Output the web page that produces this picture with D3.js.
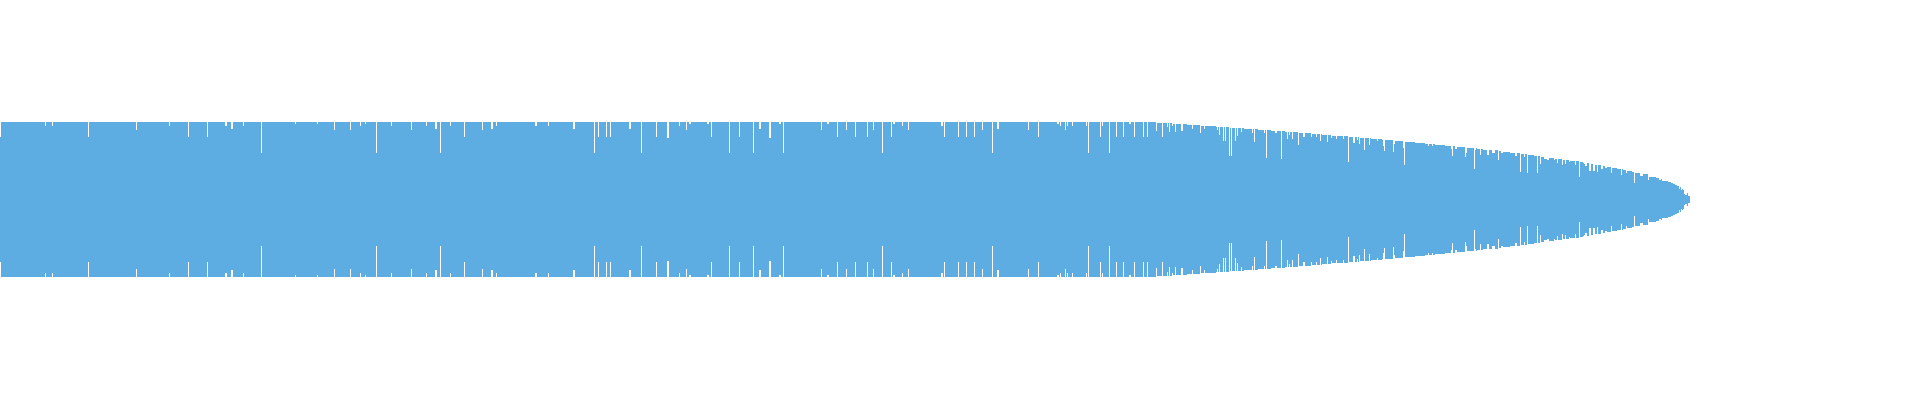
<!DOCTYPE html>
<html>
<head>
<meta charset="utf-8">
<script src="https://cdn.jsdelivr.net/npm/d3@7"></script>
<style>
  html, body { margin: 0; padding: 0; background: #fff; }
  svg { display: block; }
</style>
</head>
<body>
<svg id="wave"></svg>
<script>
// Waveform peaks, one column per sample. Amplitude 0..1, mirrored round the centre line.
const SAMPLE_COUNT = 1690;

// Envelope of the peaks: [sample index, amplitude] - holds until the next entry
const envelope = [
  [0, 1], [1157, .987], [1173, .974], [1187, .961], [1201, .948], [1216, .935],
  [1230, .923], [1244, .910], [1258, .897], [1271, .884], [1285, .871], [1299, .858],
  [1312, .845], [1322, .832], [1332, .819], [1349, .806], [1360, .794], [1371, .781],
  [1382, .768], [1395, .755], [1405, .742], [1415, .729], [1425, .716], [1435, .703],
  [1445, .690], [1457, .677], [1467, .665], [1477, .652], [1483, .639], [1499, .626],
  [1503, .613], [1510, .600], [1521, .587], [1528, .574], [1534, .561], [1541, .548],
  [1544, .523], [1547, .510], [1549, .535], [1554, .523], [1563, .510], [1570, .497],
  [1580, .484], [1587, .471], [1591, .458], [1595, .445], [1603, .432], [1605, .406],
  [1607, .419], [1612, .406], [1617, .394], [1623, .381], [1627, .368], [1632, .355],
  [1635, .342], [1640, .303], [1643, .329], [1649, .290], [1656, .277], [1659, .252],
  [1661, .265], [1662, .239], [1668, .226], [1671, .213], [1673, .200], [1675, .187],
  [1677, .174], [1679, .135], [1680, .161], [1681, .123], [1682, .135], [1683, .123],
  [1684, .071], [1685, .058], [1687, .084], [1688, .045]
];

// Quieter samples below the envelope: [sample index, amplitude, run length]
const dips = [
  [0, .81], [45, .95], [52, .95], [88, .81], [136, .90], [169, .95], [188, .81], [207, .81],
  [225, .95, 2], [231, .91, 2], [243, .95], [261, .60], [295, .97], [317, .97], [334, .90],
  [350, .90], [360, .95], [365, .97], [376, .60], [391, .95], [411, .90], [426, .95],
  [435, .91, 2], [440, .60], [450, .95], [464, .81], [482, .90], [491, .91, 2], [496, .95],
  [535, .95, 2], [548, .95],
  [573, .91, 2], [594, .60], [598, .81], [606, .81], [610, .81], [629, .91, 2], [641, .60],
  [656, .81], [667, .79, 2], [679, .95], [686, .90], [689, .97, 2], [707, .97, 2], [711, .81],
  [729, .60], [739, .81], [753, .60], [759, .91, 2], [769, .79, 2], [779, .97, 2], [783, .60],
  [821, .90], [827, .97, 2], [837, .81], [846, .90],
  [855, .81], [867, .81], [873, .90], [882, .60], [891, .81], [893, .97, 2], [902, .95],
  [908, .90], [941, .95, 2], [944, .81], [958, .81], [966, .81], [974, .81], [982, .90],
  [992, .60], [997, .91, 2], [1028, .90], [1038, .81], [1057, .97, 2], [1060, .95], [1065, .90],
  [1067, .95], [1072, .95], [1086, .95], [1088, .60], [1100, .81], [1102, .95], [1109, .60],
  [1116, .81], [1123, .81], [1129, .97, 2], [1134, .81],
  [1143, .81], [1147, .81], [1156, .884], [1162, .81], [1167, .935], [1169, .871], [1172, .948],
  [1175, .871], [1181, .884, 2], [1192, .91], [1200, .858], [1204, .91], [1217, .897],
  [1219, .832], [1223, .755], [1225, .755], [1229, .561], [1231, .561], [1235, .755],
  [1237, .819], [1241, .871], [1252, .858], [1254, .742], [1264, .858], [1266, .535],
  [1275, .858, 2], [1281, .523], [1287, .781], [1289, .832], [1292, .781], [1298, .703],
  [1303, .806, 2], [1311, .806], [1316, .806], [1320, .755], [1327, .742], [1331, .794],
  [1336, .781], [1343, .781], [1348, .484], [1353, .729, 2], [1357, .768], [1359, .716],
  [1364, .639], [1369, .703], [1377, .755], [1383, .690], [1384, .626], [1393, .613],
  [1394, .716], [1403, .665], [1404, .445],
  [1428, .690], [1432, .690], [1451, .652], [1452, .561], [1455, .652, 2], [1465, .548],
  [1466, .600], [1474, .394], [1475, .639], [1480, .574], [1487, .574, 2], [1492, .600, 3],
  [1498, .510], [1501, .600, 2], [1515, .561, 2], [1520, .355], [1524, .548], [1527, .342],
  [1537, .342], [1540, .458], [1554, .510], [1557, .471], [1562, .445], [1565, .458],
  [1569, .484], [1575, .445], [1579, .290], [1583, .471], [1584, .458], [1585, .432, 2],
  [1589, .368, 2], [1593, .368, 2], [1597, .355], [1601, .394, 2], [1611, .342], [1621, .316],
  [1626, .342], [1634, .213], [1648, .252]
];

const W = 1920, H = 400;
const WAVE_COLOR = '#5DADE2';

const svg = d3.select('#wave').attr('width', W).attr('height', H);

const x = d3.scaleLinear().domain([0, W]).range([0, W]);
const y = d3.scaleLinear().domain([-1, 1]).range([277, 122]);

function envAt(i) {
  let a = envelope[0][1];
  for (const [ex, ea] of envelope) {
    if (ex <= i) a = ea; else break;
  }
  return a;
}

function ampAt(i) {
  const d = dips.find(d => i >= d[0] && i < d[0] + (d[2] || 1));
  return d ? d[1] : envAt(i);
}

// every place where the peak value changes
const cuts = new Set([SAMPLE_COUNT]);
envelope.forEach(d => cuts.add(d[0]));
dips.forEach(d => { cuts.add(d[0]); cuts.add(d[0] + (d[2] || 1)); });

const steps = Array.from(cuts)
  .filter(i => i <= SAMPLE_COUNT)
  .sort((a, b) => a - b)
  .map(i => ({ i, amp: ampAt(Math.min(i, SAMPLE_COUNT - 1)) }));

const area = d3.area()
  .curve(d3.curveStepAfter)
  .x(d => x(d.i))
  .y0(d => y(-d.amp))
  .y1(d => y(d.amp));

svg.append('path')
  .datum(steps)
  .attr('d', area)
  .attr('fill', WAVE_COLOR)
  .attr('shape-rendering', 'crispEdges');
</script>
</body>
</html>
